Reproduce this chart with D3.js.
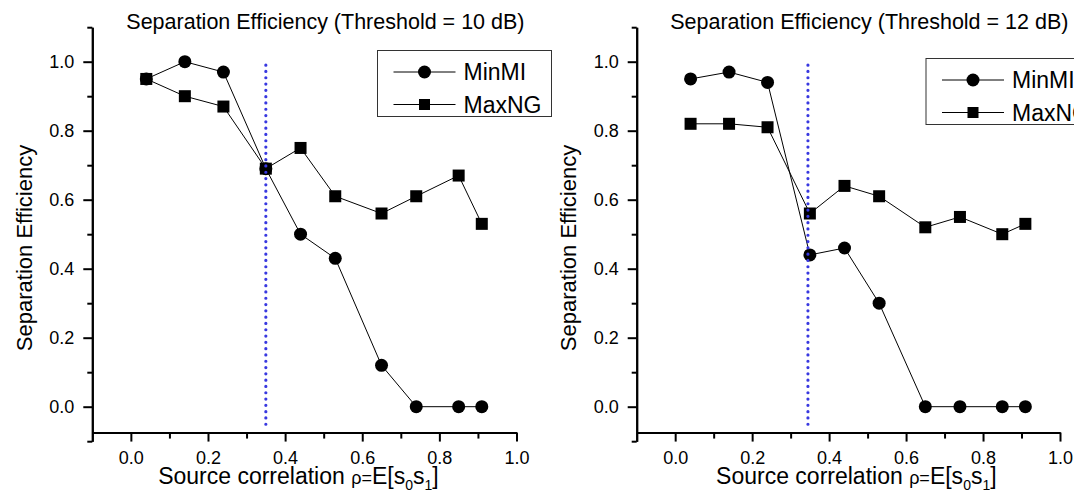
<!DOCTYPE html>
<html>
<head>
<meta charset="utf-8">
<script src="https://cdn.jsdelivr.net/npm/d3@7"></script>
<style>
    body { margin: 0; background: #fff; }
    svg { display: block; font-family: "Liberation Sans", Arial, sans-serif; }
    .axis path, .axis line { stroke: #000; stroke-width: 2; }
    .axis text { font-size: 18px; fill: #000; }
</style>
</head>
<body>
<div id="chart"></div>
<script>
// correlation values on the x axis (same for both panels)
const rhoValues = [0.04, 0.14, 0.24, 0.35, 0.44, 0.53, 0.65, 0.74, 0.85, 0.91];

// threshold = 10 dB
const minMI10 = [0.95, 1.00, 0.97, 0.69, 0.50, 0.43, 0.12, 0.00, 0.00, 0.00];
const maxNG10 = [0.95, 0.90, 0.87, 0.69, 0.75, 0.61, 0.56, 0.61, 0.67, 0.53];

// threshold = 12 dB
const minMI12 = [0.95, 0.97, 0.94, 0.44, 0.46, 0.30, 0.00, 0.00, 0.00, 0.00];
const maxNG12 = [0.82, 0.82, 0.81, 0.56, 0.64, 0.61, 0.52, 0.55, 0.50, 0.53];

const thresholds = [10, 12];
const cutoffs = [0.35, 0.345];          // dotted blue line position
const seriesNames = ["MinMI", "MaxNG"];

const xMajor = [0, 0.2, 0.4, 0.6, 0.8, 1.0];
const xMinor = [0.1, 0.3, 0.5, 0.7, 0.9];
const yMajor = [0, 0.2, 0.4, 0.6, 0.8, 1.0];
const yMinor = [-0.1, 0.1, 0.3, 0.5, 0.7, 0.9, 1.1];

const svg = d3.select("#chart").append("svg")
    .attr("width", 1074)
    .attr("height", 494);

const panels = [
    { left: 92.3, right: 516.5, minmi: minMI10, maxng: maxNG10, thr: thresholds[0], cut: cutoffs[0], legendX: 377.5, labelShift: -6 },
    { left: 636.7, right: 1060, minmi: minMI12, maxng: maxNG12, thr: thresholds[1], cut: cutoffs[1], legendX: 926, legendDy: 8, labelShift: 8 }
];

const y = d3.scaleLinear().domain([-0.1, 1.1]).range([441.2, 27.2]);

panels.forEach(p => {
    const x = d3.scaleLinear().domain([-0.1, 1.0]).range([p.left, p.right]);
    const g = svg.append("g");
    const xAxisY = y(-0.075);

    // axes
    g.append("g").attr("class", "axis")
        .attr("transform", "translate(" + p.left + ",0)")
        .call(d3.axisLeft(y).tickValues(yMajor).tickSize(9).tickSizeOuter(0).tickPadding(9)
            .tickFormat(d3.format(".1f")));
    g.append("g").attr("class", "axis")
        .attr("transform", "translate(" + p.left + ",0)")
        .call(d3.axisLeft(y).tickValues(yMinor).tickSize(5).tickSizeOuter(0).tickFormat(""));

    g.append("g").attr("class", "axis")
        .attr("transform", "translate(0," + xAxisY + ")")
        .call(d3.axisBottom(x).tickValues(xMajor).tickSize(9).tickSizeOuter(0).tickPadding(10)
            .tickFormat(d3.format(".1f")));
    g.append("g").attr("class", "axis")
        .attr("transform", "translate(0," + xAxisY + ")")
        .call(d3.axisBottom(x).tickValues(xMinor).tickSize(6).tickSizeOuter(0).tickFormat(""));

    // title
    g.append("text")
        .attr("x", (p.left + p.right) / 2 + 21)
        .attr("y", 28.5)
        .attr("text-anchor", "middle")
        .style("font-size", "21.5px")
        .text("Separation Efficiency (Threshold = " + p.thr + " dB)");

    // y label
    g.append("text")
        .attr("transform", "translate(" + (p.left - 60.5) + ",248) rotate(-90)")
        .attr("text-anchor", "middle")
        .style("font-size", "22px")
        .text("Separation Efficiency");

    // x label
    const xl = g.append("text")
        .attr("x", (p.left + p.right) / 2 + p.labelShift)
        .attr("y", 483.5)
        .attr("text-anchor", "middle")
        .style("font-size", "23px");
    xl.append("tspan").text("Source correlation ");
    xl.append("tspan").style("font-size", "18px").text("\u03C1=");
    xl.append("tspan").text("E[s");
    xl.append("tspan").style("font-size", "14px").attr("dy", 6).text("0");
    xl.append("tspan").attr("dy", -6).text("s");
    xl.append("tspan").style("font-size", "14px").attr("dy", 6).text("1");
    xl.append("tspan").attr("dy", -6).text("]");

    const line = d3.line().x((d, i) => x(rhoValues[i])).y(d => y(d));

    // MaxNG
    g.append("path").datum(p.maxng)
        .attr("d", line).attr("fill", "none").attr("stroke", "#000").attr("stroke-width", 1);
    g.selectAll(null).data(p.maxng).enter().append("rect")
        .attr("x", (d, i) => x(rhoValues[i]) - 6)
        .attr("y", d => y(d) - 6)
        .attr("width", 12).attr("height", 12)
        .attr("fill", "#000");

    // MinMI
    g.append("path").datum(p.minmi)
        .attr("d", line).attr("fill", "none").attr("stroke", "#000").attr("stroke-width", 1);
    g.selectAll(null).data(p.minmi).enter().append("circle")
        .attr("cx", (d, i) => x(rhoValues[i]))
        .attr("cy", d => y(d))
        .attr("r", 6.5)
        .attr("fill", "#000");

    // dotted cutoff line
    g.append("line")
        .attr("x1", x(p.cut)).attr("x2", x(p.cut))
        .attr("y1", y(0.99)).attr("y2", y(-0.06))
        .attr("stroke", "#3838e0")
        .attr("stroke-width", 3.2)
        .attr("stroke-linecap", "round")
        .attr("stroke-dasharray", "0 6.3");

    // legend
    const top = 50.5 + (p.legendDy || 0);
    const lg = g.append("g").attr("transform", "translate(" + p.legendX + "," + top + ")");
    lg.append("rect")
        .attr("width", 174).attr("height", 66)
        .attr("fill", "#fff").attr("stroke", "#333").attr("stroke-width", 1);
    seriesNames.forEach((name, i) => {
        const ry = 21.5 + i * 32.5;
        lg.append("line").attr("x1", 16).attr("x2", 78).attr("y1", ry).attr("y2", ry)
            .attr("stroke", "#000").attr("stroke-width", 1);
        if (i === 0) {
            lg.append("circle").attr("cx", 47).attr("cy", ry).attr("r", 6.5).attr("fill", "#000");
        } else {
            lg.append("rect").attr("x", 41.5).attr("y", ry - 5.5).attr("width", 11).attr("height", 11).attr("fill", "#000");
        }
        lg.append("text").attr("x", 86).attr("y", ry + 8)
            .style("font-size", "23px")
            .text(name);
    });
});
</script>
</body>
</html>
